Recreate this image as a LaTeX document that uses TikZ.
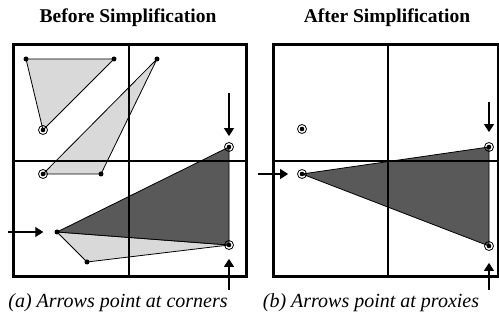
\documentclass[tikz,border=0pt]{standalone}
\usepackage{fontspec}
\setmainfont{Liberation Serif}
\usetikzlibrary{arrows.meta}

\begin{document}
\begin{tikzpicture}[
  x=1pt, y=-1pt,
  frame/.style={line width=3pt},
  gridline/.style={line width=1.5pt},
  lightface/.style={draw, fill=black!15, line width=0.8pt, line join=round},
  darkface/.style={draw, fill=black!65, line width=0.8pt, line join=round},
  vertex/.style={circle, fill, inner sep=0pt, minimum size=5pt},
  proxy/.style={
    circle, draw, inner sep=0pt, minimum size=9pt, line width=0.8pt,
    path picture={\fill (path picture bounding box.center) circle (2.3pt);},
  },
  pointer/.style={-{Triangle[length=8pt,width=10pt]}, line width=1.1pt},
  title/.style={font=\bfseries\fontsize{19.5}{22}\selectfont},
  caption/.style={font=\itshape\fontsize{20}{23}\selectfont},
]
\useasboundingbox (0,0) rectangle (499,320);

% --- titles ---
\node[title] (TitleBefore) at (128,18) {Before Simplification};
\node[title] (TitleAfter) at (387,18) {After Simplification};

% --- Before: vertices ---
\coordinate (A1) at (26,59);
\coordinate (A2) at (114,59);
\coordinate (B1) at (157,59);
\coordinate (B3) at (101,174);
\coordinate (C3) at (87,262);

% --- Before: faces ---
\draw[lightface] (A1) -- (A2) -- (43,130) -- cycle;
\draw[lightface] (B1) -- (43,174) -- (B3) -- cycle;
\draw[lightface] (57,232) -- (C3) -- (229,245) -- cycle;
\draw[darkface] (229,147) -- (57,232) -- (229,245) -- cycle;

% --- Before: grid and frame ---
\draw[gridline] (129,45) -- (129,277);
\draw[gridline] (13,161) -- (246,161);
\draw[frame] (13,45) rectangle (246,277);

% --- Before: points ---
\node[vertex] (a1) at (A1) {};
\node[vertex] (a2) at (A2) {};
\node[proxy] (a3) at (43,130) {};
\node[vertex] (b1) at (B1) {};
\node[proxy] (b2) at (43,174) {};
\node[vertex] (b3) at (B3) {};
\node[vertex] (c1) at (57,232) {};
\node[vertex] (c3) at (C3) {};
\node[proxy] (c2) at (229,147) {};
\node[proxy] (c4) at (229,245) {};

% --- Before: arrows at corners ---
\coordinate (InLeft) at (8,232);
\coordinate (InTop) at (229,93);
\coordinate (InBottom) at (229,290);
\draw[pointer, shorten >=11pt] (InLeft) -- (c1);
\draw[pointer, shorten >=6pt] (InTop) -- (c2);
\draw[pointer, shorten >=9pt] (InBottom) -- (c4);

% --- After: faces ---
\draw[darkface] (302,174) -- (489,147) -- (489,246) -- cycle;

% --- After: grid and frame ---
\draw[gridline] (388,45) -- (388,277);
\draw[gridline] (273,161) -- (498,161);
\draw[frame] (273,45) rectangle (498,277);

% --- After: proxies ---
\node[proxy] (p1) at (302,129) {};
\node[proxy] (p2) at (302,174) {};
\node[proxy] (p3) at (489,147) {};
\node[proxy] (p4) at (489,246) {};

% --- After: arrows at proxies ---
\coordinate (OutLeft) at (258,174);
\coordinate (OutTop) at (489,102);
\coordinate (OutBottom) at (489,290);
\draw[pointer, shorten >=9pt] (OutLeft) -- (p2);
\draw[pointer, shorten >=10pt] (OutTop) -- (p3);
\draw[pointer, shorten >=12pt] (OutBottom) -- (p4);

% --- captions ---
\node[caption] (CapBefore) at (118,303) {(a) Arrows point at corners};
\node[caption] (CapAfter) at (371,303) {(b) Arrows point at proxies};
\end{tikzpicture}
\end{document}
